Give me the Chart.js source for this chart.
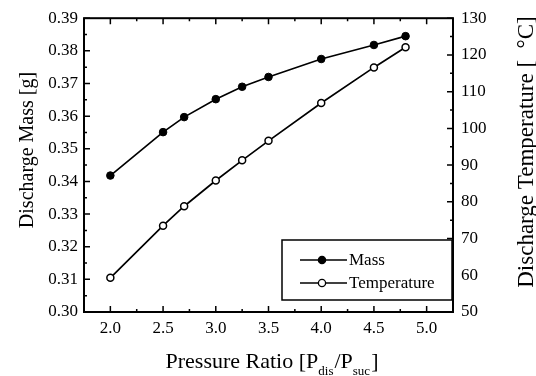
<!DOCTYPE html>
<html>
<head>
<meta charset="utf-8">
<script src="https://cdn.jsdelivr.net/npm/chart.js@4/dist/chart.umd.min.js"></script>
<style>
html,body{margin:0;padding:0;background:#fff;}
#c{display:block;}
</style>
</head>
<body>
<canvas id="c" width="536" height="376"></canvas>
<script>
// ---- data ----
const pressureRatio = [2.0, 2.5, 2.7, 3.0, 3.25, 3.5, 4.0, 4.5, 4.8];
const massValues = [0.3418, 0.3551, 0.3597, 0.3652, 0.3690, 0.3720, 0.3775, 0.3818, 0.3845];
const tempValues = [59.3, 73.5, 78.8, 85.8, 91.3, 96.6, 106.9, 116.6, 122.1];
const xTickValues = [2.0, 2.5, 3.0, 3.5, 4.0, 4.5, 5.0];
const massTickValues = [0.30, 0.31, 0.32, 0.33, 0.34, 0.35, 0.36, 0.37, 0.38, 0.39];
const tempTickValues = [50, 60, 70, 80, 90, 100, 110, 120, 130];
const seriesNames = ['Mass', 'Temperature'];
const xTitleParts = ['Pressure Ratio [P', 'dis', '/P', 'suc', ']'];
const yTitle = 'Discharge Mass [g]';
const y1Title = 'Discharge Temperature [  \u00B0C]';

const FONT = "'Liberation Serif', 'Times New Roman', serif";

function midpoints(arr, lo, hi) {
  const out = [];
  const step = arr[1] - arr[0];
  const all = [arr[0] - step / 2].concat(arr.map(v => v + step / 2));
  all.forEach(v => { if (v > lo + 1e-9 && v < hi - 1e-9) out.push(v); });
  return out;
}

const framePlugin = {
  id: 'frame',
  afterDraw(chart) {
    const ctx = chart.ctx;
    const a = chart.chartArea;
    const sx = chart.scales.x, sy = chart.scales.y, sy1 = chart.scales.y1;
    ctx.save();
    ctx.strokeStyle = '#000';
    // ticks (inward)
    ctx.lineWidth = 1.5;
    const MAJ = 6, MIN = 3;
    const xMinor = midpoints(xTickValues, sx.min, sx.max);
    ctx.beginPath();
    xTickValues.forEach(v => {
      const p = sx.getPixelForValue(v);
      ctx.moveTo(p, a.bottom); ctx.lineTo(p, a.bottom - MAJ);
      ctx.moveTo(p, a.top); ctx.lineTo(p, a.top + MAJ);
    });
    xMinor.forEach(v => {
      const p = sx.getPixelForValue(v);
      ctx.moveTo(p, a.bottom); ctx.lineTo(p, a.bottom - MIN);
      ctx.moveTo(p, a.top); ctx.lineTo(p, a.top + MIN);
    });
    massTickValues.forEach(v => {
      const p = sy.getPixelForValue(v);
      ctx.moveTo(a.left, p); ctx.lineTo(a.left + MAJ, p);
    });
    midpoints(massTickValues, sy.min, sy.max).forEach(v => {
      const p = sy.getPixelForValue(v);
      ctx.moveTo(a.left, p); ctx.lineTo(a.left + MIN, p);
    });
    tempTickValues.forEach(v => {
      const p = sy1.getPixelForValue(v);
      ctx.moveTo(a.right, p); ctx.lineTo(a.right - MAJ, p);
    });
    midpoints(tempTickValues, sy1.min, sy1.max).forEach(v => {
      const p = sy1.getPixelForValue(v);
      ctx.moveTo(a.right, p); ctx.lineTo(a.right - MIN, p);
    });
    ctx.stroke();
    // frame
    ctx.lineWidth = 2;
    ctx.strokeRect(a.left, a.top, a.right - a.left, a.bottom - a.top);

    // legend
    const lx = 282, ly = 240, lw = 170, lh = 60;
    ctx.fillStyle = '#fff';
    ctx.fillRect(lx, ly, lw, lh);
    ctx.lineWidth = 1.5;
    ctx.strokeRect(lx, ly, lw, lh);
    const rows = [260, 283];
    chart.data.datasets.forEach((ds, i) => {
      const y = rows[i];
      ctx.beginPath();
      ctx.lineWidth = 1.7;
      ctx.moveTo(300, y); ctx.lineTo(347, y);
      ctx.stroke();
      ctx.beginPath();
      ctx.arc(322, y, 3.6, 0, Math.PI * 2);
      ctx.fillStyle = ds.pointBackgroundColor;
      ctx.fill();
      ctx.lineWidth = 1.3;
      ctx.stroke();
      ctx.fillStyle = '#000';
      ctx.font = '17px ' + FONT;
      ctx.textAlign = 'left';
      ctx.textBaseline = 'middle';
      ctx.fillText(ds.label, 349, y + 1);
    });

    // axis titles
    ctx.fillStyle = '#000';
    ctx.textAlign = 'center';
    ctx.textBaseline = 'middle';
    ctx.save();
    ctx.translate(28, 150);
    ctx.rotate(-Math.PI / 2);
    ctx.font = '20px ' + FONT;
    ctx.fillText(yTitle, 0, 0);
    ctx.restore();

    ctx.save();
    ctx.translate(527, 152);
    ctx.rotate(-Math.PI / 2);
    ctx.font = '23px ' + FONT;
    ctx.fillText(y1Title, 0, 0);
    ctx.restore();

    // x title with subscripts
    const bigF = '22px ' + FONT, smallF = '13px ' + FONT;
    const fonts = [bigF, smallF, bigF, smallF, bigF];
    const offs = [0, 7, 0, 7, 0];
    let total = 0;
    const widths = xTitleParts.map((t, i) => { ctx.font = fonts[i]; const w = ctx.measureText(t).width; total += w; return w; });
    let x = 271 - total / 2;
    ctx.textAlign = 'left';
    ctx.textBaseline = 'alphabetic';
    xTitleParts.forEach((t, i) => {
      ctx.font = fonts[i];
      ctx.fillText(t, x, 368 + offs[i]);
      x += widths[i] + (i === 1 || i === 3 ? 1 : 0);
    });
    ctx.restore();
  }
};

new Chart(document.getElementById('c'), {
  type: 'line',
  data: {
    datasets: [
      {
        label: seriesNames[0],
        data: pressureRatio.map((x, i) => ({ x: x, y: massValues[i] })),
        yAxisID: 'y',
        borderColor: '#000',
        borderWidth: 1.7,
        pointRadius: 3.8,
        pointBackgroundColor: '#000',
        pointBorderColor: '#000',
        pointBorderWidth: 1,
        tension: 0,
        fill: false
      },
      {
        label: seriesNames[1],
        data: pressureRatio.map((x, i) => ({ x: x, y: tempValues[i] })),
        yAxisID: 'y1',
        borderColor: '#000',
        borderWidth: 1.7,
        pointRadius: 3.5,
        pointBackgroundColor: '#fff',
        pointBorderColor: '#000',
        pointBorderWidth: 1.5,
        tension: 0,
        fill: false
      }
    ]
  },
  options: {
    responsive: false,
    animation: false,
    devicePixelRatio: 1,
    layout: { padding: { top: 14, left: 0, right: 0, bottom: 0 } },
    plugins: { legend: { display: false }, tooltip: { enabled: false } },
    scales: {
      x: {
        type: 'linear',
        min: 1.75, max: 5.25,
        afterBuildTicks: s => { s.ticks = xTickValues.map(v => ({ value: v })); },
        afterFit: s => { s.height = 64; },
        grid: { display: false, drawTicks: false },
        border: { display: false },
        ticks: {
          color: '#000', font: { family: FONT, size: 17 }, padding: 6,
          maxRotation: 0, autoSkip: false,
          callback: v => Number(v).toFixed(1)
        }
      },
      y: {
        position: 'left',
        min: 0.30, max: 0.39,
        afterBuildTicks: s => { s.ticks = massTickValues.map(v => ({ value: v })); },
        afterFit: s => { s.width = 84; },
        grid: { display: false, drawTicks: false },
        border: { display: false },
        ticks: {
          color: '#000', font: { family: FONT, size: 17 }, padding: 6, autoSkip: false,
          callback: v => Number(v).toFixed(2)
        }
      },
      y1: {
        position: 'right',
        min: 50, max: 130,
        afterBuildTicks: s => { s.ticks = tempTickValues.map(v => ({ value: v })); },
        afterFit: s => { s.width = 83; },
        grid: { display: false, drawTicks: false },
        border: { display: false },
        ticks: {
          color: '#000', font: { family: FONT, size: 17 }, padding: 8, autoSkip: false,
          callback: v => String(v)
        }
      }
    }
  },
  plugins: [framePlugin]
});
</script>
</body>
</html>
